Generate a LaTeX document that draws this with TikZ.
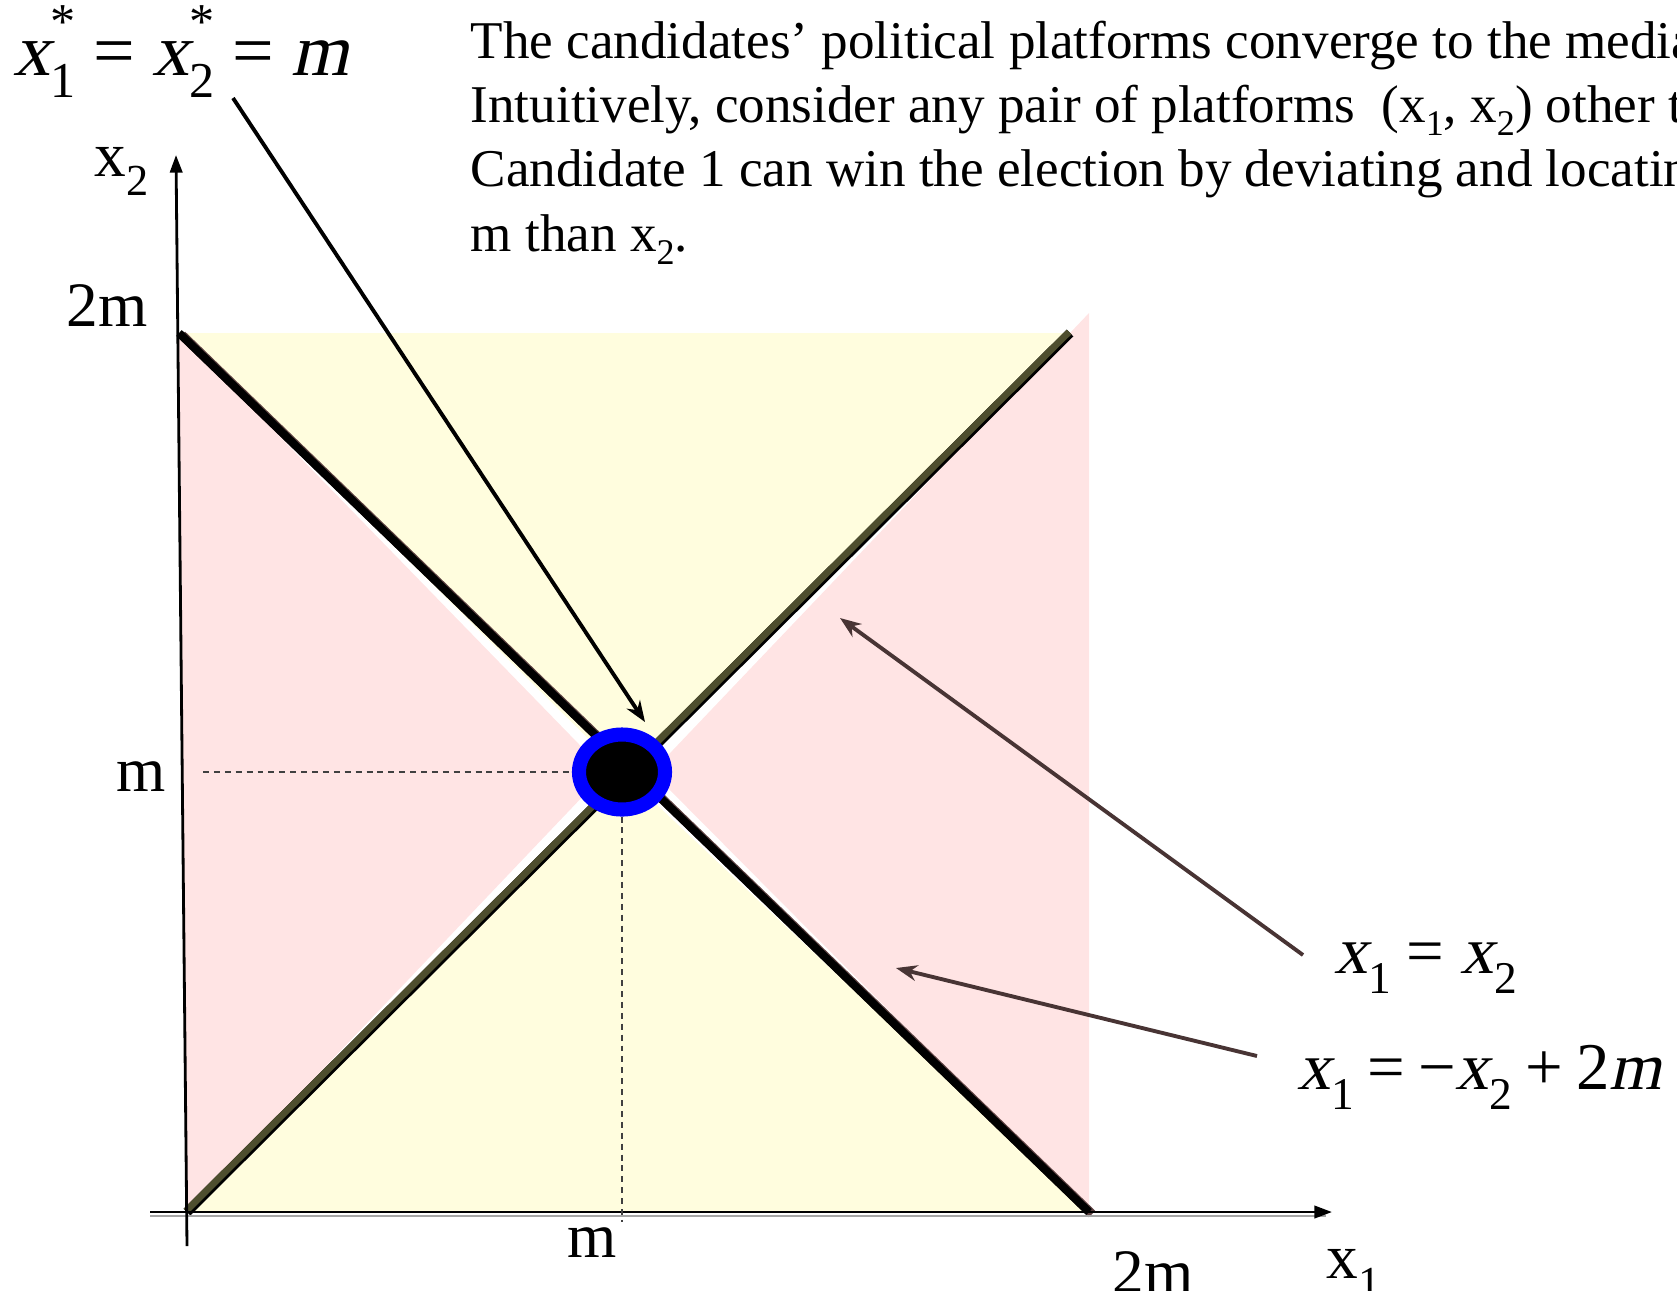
\documentclass[tikz,border=0pt]{standalone}
\usepackage{fontspec}
\setmainfont{Liberation Serif}[ItalicFont={Liberation Serif}, ItalicFeatures={FakeSlant=0.22}]
\usetikzlibrary{arrows.meta,shapes.geometric}

\definecolor{regyellow}{RGB}{255,253,222}
\definecolor{regpink}{RGB}{255,228,228}
\definecolor{olivebar}{RGB}{78,78,46}
\definecolor{shadebrown}{RGB}{92,64,64}
\definecolor{ptrbrown}{RGB}{72,52,52}

% italic variable with subscript (and starred version)
\newcommand{\xsub}[1]{\textit{x}\raisebox{-0.3em}{\scalebox{0.68}{#1}}}
\newcommand{\xstar}[1]{\textit{x}\rlap{\raisebox{0.5em}{\scalebox{0.68}{*}}}\raisebox{-0.3em}{\scalebox{0.68}{#1}}}
\newcommand{\xrom}[1]{x\raisebox{-0.3em}{\scalebox{0.7}{#1}}}
\newcommand{\rsub}[1]{\raisebox{-0.25em}{\scalebox{0.68}{#1}}}
\newcommand{\eqsp}{\kern0.24em}

\begin{document}
\begin{tikzpicture}[
    x=0.01cm, y=-0.01cm,
    >={Stealth[length=6pt,width=4.5pt]},
    axis/.style={line width=0.8pt, -{Triangle[length=5pt,width=3.5pt]}},
    ptr/.style={line width=1.1pt, ->},
    guide/.style={dash pattern=on 1.7pt off 1.4pt, line width=0.4pt, black!75},
    lab/.style={inner sep=0pt, anchor=base west, font=\fontsize{18}{20}\selectfont},
    eq/.style={inner sep=0pt, anchor=base west, font=\fontsize{19}{22}\selectfont},
    note/.style={inner sep=0pt, anchor=north west, align=left, font=\fontsize{15.1}{18.3}\selectfont},
]
  \useasboundingbox (0,0) rectangle (1677,1290);

  % ---------------- corners of the square ----------------
  \coordinate (tl) at (179,333);
  \coordinate (tr) at (1070,333);
  \coordinate (trx) at (1089,313);
  \coordinate (br) at (1089,1212);
  \coordinate (bl) at (187,1212);
  \coordinate (ctr) at (622,772);

  % ---------------- regions ----------------
  \fill[regpink] (tl) -- (606,772) -- (bl) -- cycle;
  \fill[regpink] (652,772) -- (trx) -- (br) -- cycle;
  \fill[regyellow] (tl) -- (tr) -- (ctr) -- cycle;
  \fill[regyellow] (bl) -- (br) -- (ctr) -- cycle;

  % ---------------- diagonals ----------------
  \draw[shadebrown, line width=2.6pt] ([shift={(3,2)}]tl) -- ([shift={(3,2)}]br);
  \draw[black, line width=2.3pt] (tl) -- (br);
  \draw[black, line width=2.7pt] (bl) -- (tr);
  \draw[olivebar, line width=1.9pt] ([shift={(-1,-1)}]bl) -- ([shift={(-1,-1)}]tr);

  % ---------------- axes ----------------
  \draw[black!35, line width=0.8pt] (150,1216) -- (1326,1216);
  \draw[axis] (150,1212) -- (1332,1212);
  \draw[axis] (187,1246) -- (176,155);

  % ---------------- equilibrium ----------------
  \node[ellipse, draw=blue, line width=4pt, fill=black, inner sep=0pt,
        minimum width=0.86cm, minimum height=0.75cm] (eqm) at (ctr) {};
  \coordinate (ytick) at (203,772);
  \coordinate (xtick) at (622,1222);
  \draw[guide] (ytick) -- (eqm.west);
  \draw[guide] (eqm.south) -- (xtick);

  % ---------------- labels ----------------
  \node[lab] (lx2) at (94,176) {\xrom{2}};
  \node[lab] (l2my) at (66,326) {2m};
  \node[lab] (lmy) at (116,791) {m};
  \node[lab] (lmx) at (567,1257) {m};
  \node[lab] (l2mx) at (1112,1293) {2m};
  \node[lab] (lx1) at (1326,1278) {\xrom{1}};

  \node[eq, font=\fontsize{21}{24}\selectfont] (eqlab) at (13,75)
       {\xstar{1}\eqsp=\eqsp\xstar{2}\eqsp=\eqsp\textit{m}};
  \node[eq] (eqdiag) at (1334,973) {\xsub{1}\eqsp=\eqsp\xsub{2}};
  \node[eq] (eqanti) at (1297,1089)
       {\xsub{1}\kern0.2em=\kern0.2em−\xsub{2}\kern0.2em+\kern0.2em2\textit{m}};

  \node[note] (txt) at (470,20)
       {The candidates’ political platforms converge to the median\\
        Intuitively, consider any pair of platforms\ \ (x\rsub{1}, x\rsub{2}) other than\\
        Candidate 1 can win the election by deviating and locating\\
        m than x\rsub{2}.};

  % ---------------- pointers ----------------
  \coordinate (eqfoot) at (233,98);
  \coordinate (eqtip) at (645,722);
  \draw[ptr] (eqfoot) -- (eqtip);
  \coordinate (diagfoot) at (1303,955);
  \coordinate (diagtip) at (840,618);
  \draw[ptr, ptrbrown] (diagfoot) -- (diagtip);
  \coordinate (antifoot) at (1257,1056);
  \coordinate (antitip) at (896,968);
  \draw[ptr, ptrbrown] (antifoot) -- (antitip);
\end{tikzpicture}
\end{document}
